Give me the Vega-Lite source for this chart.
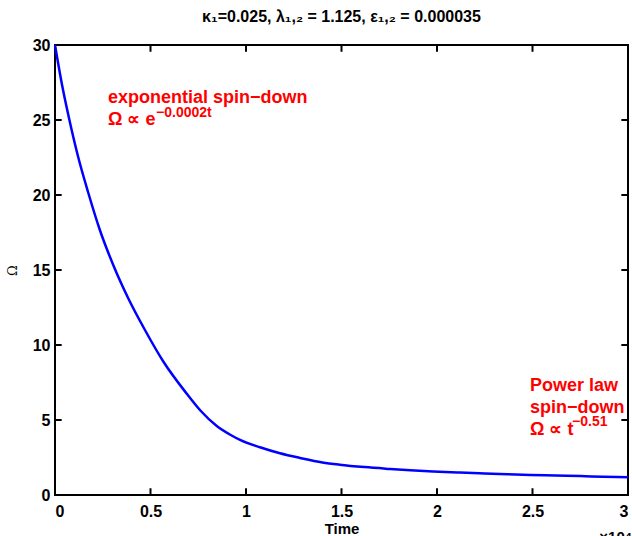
{
  "$schema": "https://vega.github.io/schema/vega-lite/v6.json",
  "width": 573,
  "height": 450,
  "autosize": "none",
  "padding": {"left": 55, "top": 45, "right": 4, "bottom": 41},
  "background": "white",
  "config": {
    "font": "Liberation Sans",
    "view": {"stroke": "black", "strokeWidth": 2},
    "axis": {
      "grid": false,
      "domain": false,
      "ticks": false,
      "labelFont": "Liberation Sans",
      "labelFontWeight": "bold",
      "labelFontSize": 16,
      "labelColor": "black",
      "titleColor": "black"
    }
  },
  "title": {
    "text": "κ₁=0.025, λ₁,₂ = 1.125, ε₁,₂ = 0.000035",
    "font": "Liberation Sans",
    "fontSize": 16,
    "fontWeight": "bold",
    "color": "black",
    "offset": 12
  },
  "datasets": {
    "curve": [
      {"t": 0, "omega": 30},
      {"t": 0.036, "omega": 27.4},
      {"t": 0.072, "omega": 25.2},
      {"t": 0.12, "omega": 22.6},
      {"t": 0.173, "omega": 20.2},
      {"t": 0.234, "omega": 17.7},
      {"t": 0.306, "omega": 15.3},
      {"t": 0.384, "omega": 13.1},
      {"t": 0.471, "omega": 11.0},
      {"t": 0.567, "omega": 8.9},
      {"t": 0.69, "omega": 6.75},
      {"t": 0.76, "omega": 5.65},
      {"t": 0.847, "omega": 4.6},
      {"t": 0.92, "omega": 4.0},
      {"t": 0.969, "omega": 3.67},
      {"t": 1.073, "omega": 3.18},
      {"t": 1.178, "omega": 2.78},
      {"t": 1.283, "omega": 2.47},
      {"t": 1.4, "omega": 2.17},
      {"t": 1.49, "omega": 2.02},
      {"t": 1.62, "omega": 1.86},
      {"t": 1.75, "omega": 1.74},
      {"t": 1.86, "omega": 1.65},
      {"t": 1.98, "omega": 1.57},
      {"t": 2.12, "omega": 1.5},
      {"t": 2.25, "omega": 1.44},
      {"t": 2.37, "omega": 1.39},
      {"t": 2.49, "omega": 1.34},
      {"t": 2.62, "omega": 1.3},
      {"t": 2.75, "omega": 1.26},
      {"t": 2.87, "omega": 1.22},
      {"t": 3.0, "omega": 1.18}
    ],
    "xticks": [
      {"t": 0.5}, {"t": 1}, {"t": 1.5}, {"t": 2}, {"t": 2.5}
    ],
    "yticks": [
      {"omega": 5}, {"omega": 10}, {"omega": 15}, {"omega": 20}, {"omega": 25}
    ],
    "notes": [
      {"t": 0.2775, "omega": 26.5, "text": "exponential spin−down"},
      {"t": 0.2775, "omega": 25.0, "text": "Ω ∝ e"},
      {"t": 2.487, "omega": 7.29, "text": "Power law"},
      {"t": 2.487, "omega": 5.83, "text": "spin−down"},
      {"t": 2.487, "omega": 4.36, "text": "Ω ∝ t"}
    ],
    "exponents": [
      {"t": 0.529, "omega": 25.5, "text": "−0.0002t"},
      {"t": 2.707, "omega": 4.85, "text": "−0.51"}
    ],
    "multiplier": [
      {"t": 2.85, "omega": -2.35, "text": "×10⁴"}
    ]
  },
  "layer": [
    {
      "data": {"name": "curve"},
      "mark": {"type": "line", "color": "#0000ff", "strokeWidth": 2.5, "interpolate": "monotone"},
      "encoding": {
        "x": {
          "field": "t", "type": "quantitative",
          "scale": {"domain": [0, 3], "nice": false, "zero": false},
          "axis": {
            "orient": "bottom",
            "values": [0, 0.5, 1, 1.5, 2, 2.5, 3],
            "format": "~g",
            "labelPadding": 8,
            "title": "Time",
            "titleFont": "Liberation Sans",
            "titleFontSize": 15,
            "titleFontWeight": "bold",
            "titlePadding": 2
          }
        },
        "y": {
          "field": "omega", "type": "quantitative",
          "scale": {"domain": [0, 30], "nice": false},
          "axis": {
            "orient": "left",
            "values": [0, 5, 10, 15, 20, 25, 30],
            "labelPadding": 5,
            "title": "Ω",
            "titleFont": "DejaVu Serif",
            "titleFontSize": 13,
            "titleFontWeight": "normal",
            "titlePadding": 13
          }
        }
      }
    },
    {
      "data": {"name": "xticks"},
      "mark": {"type": "rule", "color": "black", "strokeWidth": 2},
      "encoding": {
        "x": {"field": "t", "type": "quantitative", "axis": null},
        "y": {"datum": 0, "axis": null},
        "y2": {"datum": 0.45}
      }
    },
    {
      "data": {"name": "xticks"},
      "mark": {"type": "rule", "color": "black", "strokeWidth": 2},
      "encoding": {
        "x": {"field": "t", "type": "quantitative", "axis": null},
        "y": {"datum": 29.55, "axis": null},
        "y2": {"datum": 30}
      }
    },
    {
      "data": {"name": "yticks"},
      "mark": {"type": "rule", "color": "black", "strokeWidth": 2},
      "encoding": {
        "y": {"field": "omega", "type": "quantitative", "axis": null},
        "x": {"datum": 0, "axis": null},
        "x2": {"datum": 0.035}
      }
    },
    {
      "data": {"name": "yticks"},
      "mark": {"type": "rule", "color": "black", "strokeWidth": 2},
      "encoding": {
        "y": {"field": "omega", "type": "quantitative", "axis": null},
        "x": {"datum": 2.965, "axis": null},
        "x2": {"datum": 3}
      }
    },
    {
      "data": {"name": "notes"},
      "mark": {"type": "text", "align": "left", "baseline": "middle", "color": "#ff0000", "font": "Liberation Sans", "fontWeight": "bold", "fontSize": 18},
      "encoding": {
        "x": {"field": "t", "type": "quantitative", "axis": null},
        "y": {"field": "omega", "type": "quantitative", "axis": null},
        "text": {"field": "text"}
      }
    },
    {
      "data": {"name": "exponents"},
      "mark": {"type": "text", "align": "left", "baseline": "middle", "color": "#ff0000", "font": "Liberation Sans", "fontWeight": "bold", "fontSize": 14},
      "encoding": {
        "x": {"field": "t", "type": "quantitative", "axis": null},
        "y": {"field": "omega", "type": "quantitative", "axis": null},
        "text": {"field": "text"}
      }
    },
    {
      "data": {"name": "multiplier"},
      "mark": {"type": "text", "align": "left", "baseline": "top", "color": "black", "font": "Liberation Sans", "fontWeight": "bold", "fontSize": 15, "clip": false},
      "encoding": {
        "x": {"field": "t", "type": "quantitative", "axis": null},
        "y": {"field": "omega", "type": "quantitative", "axis": null},
        "text": {"field": "text"}
      }
    }
  ],
  "resolve": {"axis": {"x": "independent", "y": "independent"}}
}
